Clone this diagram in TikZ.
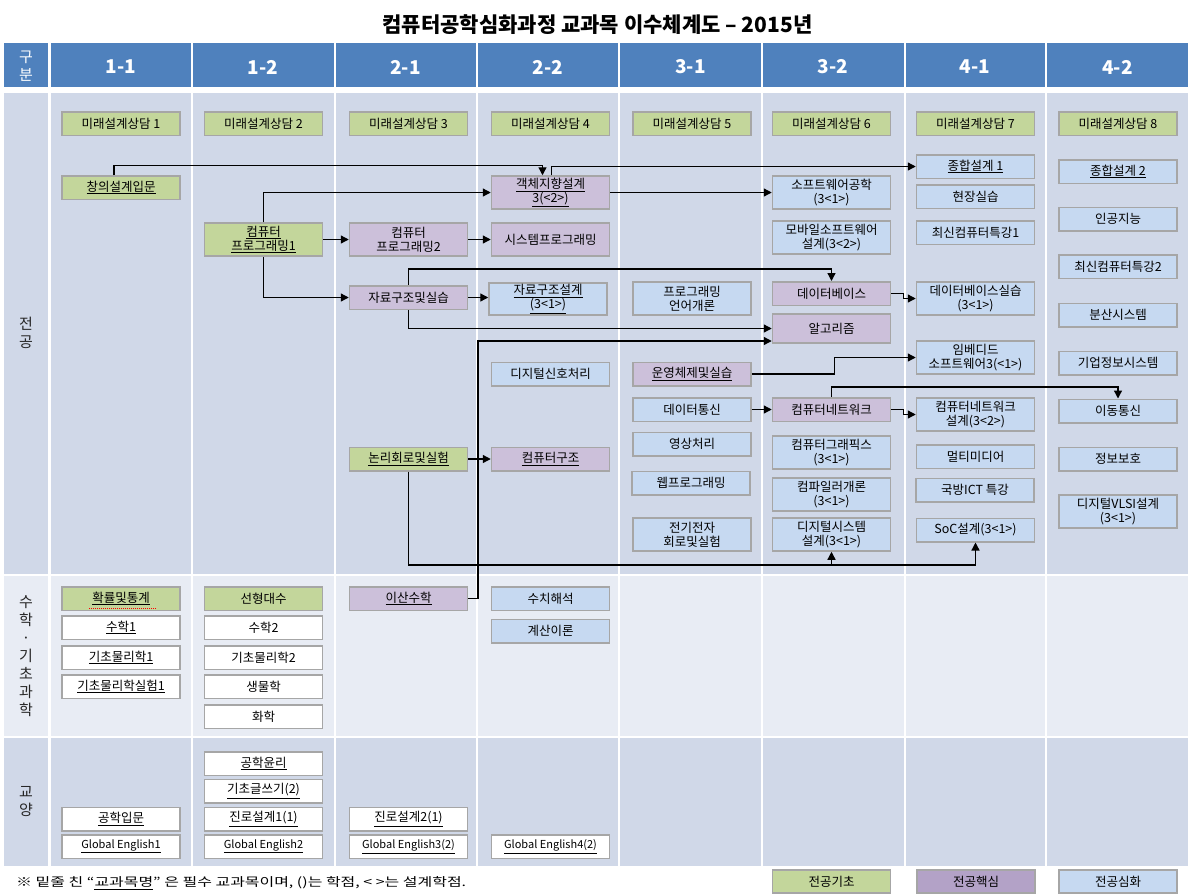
\documentclass[tikz,border=0pt]{standalone}
\usepackage{fontspec}
\usepackage{graphicx}
\setmainfont{Noto Sans CJK KR}
\usetikzlibrary{arrows.meta}
\definecolor{hdr}{HTML}{4F81BD}
\definecolor{bgA}{HTML}{D0D8E8}
\definecolor{bgB}{HTML}{E8ECF4}
\definecolor{cG}{HTML}{C3D69B}
\definecolor{cP}{HTML}{CCC0DA}
\definecolor{cB}{HTML}{C6D9F1}
\definecolor{cL}{HTML}{B3A2C7}
\definecolor{bd}{HTML}{A6A6A6}
\begin{document}
\begin{tikzpicture}[x=1pt,y=-1pt,
  box/.style={draw=bd,line width=1.5pt,minimum width=118pt,minimum height=23.5pt,inner sep=0pt,align=center,font=\fontsize{12.5}{14}\selectfont},
  tall/.style={minimum height=33pt},
  gb/.style={box,fill=cG}, pb/.style={box,fill=cP}, bb/.style={box,fill=cB}, wb/.style={box,fill=white},
  lb/.style={box,fill=cL},
  ge/.style={font=\fontsize{11}{13}\selectfont},
  arr/.style={line width=1.3pt,-{Triangle[length=8pt,width=8pt]}},
  hd/.style={text=white,font=\fontsize{19}{19}\bfseries\selectfont},
  rowlab/.style={align=center,font=\fontsize{15}{18}\selectfont,text=black!85}
]
\useasboundingbox (0,0) rectangle (1195,895);
\fill[white] (0,0) rectangle (1195,895);
% grid
\foreach \l/\r in {4/48, 50.5/191, 193/333.5, 335.5/475.5, 477.5/618, 620/761, 763/903.5, 905.5/1045, 1047/1188}{
  \fill[hdr] (\l,43) rectangle (\r,87);
  \fill[bgA] (\l,93) rectangle (\r,574);
  \fill[bgB] (\l,576) rectangle (\r,736);
  \fill[bgA] (\l,738) rectangle (\r,866);
}
% title
\node[font=\fontsize{21}{22}\bfseries\selectfont] (title) at (597.5,25) {컴퓨터공학심화과정 교과목 이수체계도 – 2015년};
% header
\node[rowlab,text=white] (hg) at (26,66) {구\\분};
\node[hd] (h1) at (120.7,67) {1-1};
\node[hd] (h2) at (263.2,67) {1-2};
\node[hd] (h3) at (405.5,67) {2-1};
\node[hd] (h4) at (547.7,67) {2-2};
\node[hd] (h5) at (690.5,67) {3-1};
\node[hd] (h6) at (833.2,67) {3-2};
\node[hd] (h7) at (975.2,67) {4-1};
\node[hd] (h8) at (1117.5,67) {4-2};
% row labels
\node[rowlab] (r1) at (26,332.5) {전\\공};
\node[rowlab] (r2) at (26,656) {수\\학\\·\\기\\초\\과\\학};
\node[rowlab] (r3) at (26,802) {교\\양};
% future design
\node[gb] (f1) at (121,123.5) {미래설계상담 1};
\node[gb] (f2) at (263.5,123.5) {미래설계상담 2};
\node[gb] (f3) at (408.5,123.5) {미래설계상담 3};
\node[gb] (f4) at (550.5,123.5) {미래설계상담 4};
\node[gb] (f5) at (692,123.5) {미래설계상담 5};
\node[gb] (f6) at (831.5,123.5) {미래설계상담 6};
\node[gb] (f7) at (975.5,123.5) {미래설계상담 7};
\node[gb] (f8) at (1118,123.5) {미래설계상담 8};
% major
\node[gb] (cyi) at (121,187.5) {\underline{창의설계입문}};
\node[pb,tall] (ood) at (550.5,192.5) {\underline{객체지향설계}\\\underline{3(<2>)}};
\node[gb,tall] (cp1) at (263.5,239.5) {\underline{컴퓨터}\\\underline{프로그래밍1}};
\node[pb,tall] (cp2) at (408.5,239.5) {컴퓨터\\프로그래밍2};
\node[pb,tall] (sysp) at (550.5,239.5) {시스템프로그래밍};
\node[pb] (ds) at (408.5,297.5) {자료구조및실습};
\node[bb,minimum height=32pt] (dsd) at (548,299) {\underline{자료구조설계}\\\underline{(3<1>)}};
\node[bb,tall] (swe) at (831.5,192.5) {소프트웨어공학\\(3<1>)};
\node[bb,tall] (mob) at (831.5,237.5) {모바일소프트웨어\\설계(3<2>)};
\node[bb] (cd1) at (975.5,166.5) {\underline{종합설계 1}};
\node[bb] (field) at (975.5,196.5) {현장실습};
\node[bb] (rec1) at (975.5,232.5) {최신컴퓨터특강1};
\node[bb] (cd2) at (1118,171.5) {\underline{종합설계 2}};
\node[bb] (ai) at (1118,219) {인공지능};
\node[bb] (rec2) at (1118,266.5) {최신컴퓨터특강2};
\node[bb,tall] (pl) at (692,298.5) {프로그래밍\\언어개론};
\node[pb] (db) at (831.5,293.5) {데이터베이스};
\node[bb,tall] (dbl) at (975.5,298.5) {데이터베이스실습\\(3<1>)};
\node[bb] (dist) at (1118,315) {분산시스템};
\node[pb,minimum height=29pt] (alg) at (831.5,328.5) {알고리즘};
\node[bb,tall] (emb) at (975.5,357.5) {임베디드\\소프트웨어3(<1>)};
\node[bb] (eis) at (1118,363) {기업정보시스템};
\node[bb] (dsp) at (550.5,374) {디지털신호처리};
\node[pb] (os) at (692,374) {\underline{운영체제및실습}};
\node[bb] (dc) at (692,409.5) {데이터통신};
\node[pb] (net) at (831.5,409.5) {컴퓨터네트워크};
\node[bb,tall] (netd) at (975.5,414.5) {컴퓨터네트워크\\설계(3<2>)};
\node[bb] (mobc) at (1118,411) {이동통신};
\node[bb] (img) at (692,444) {영상처리};
\node[bb,tall] (cg) at (831.5,452.5) {컴퓨터그래픽스\\(3<1>)};
\node[bb] (mm) at (975.5,456.5) {멀티미디어};
\node[bb] (sec) at (1118,459) {정보보호};
\node[gb] (logic) at (408.5,459) {\underline{논리회로및실험}};
\node[pb] (ca) at (550.5,459) {\underline{컴퓨터구조}};
\node[bb] (web) at (691,483) {웹프로그래밍};
\node[bb,tall] (comp) at (831.5,494.5) {컴파일러개론\\(3<1>)};
\node[bb] (ict) at (975,490) {국방ICT 특강};
\node[bb,tall] (vlsi) at (1118,511.5) {디지털VLSI설계\\(3<1>)};
\node[bb,tall] (ee) at (692,534.5) {전기전자\\회로및실험};
\node[bb,tall] (dsys) at (831.5,534.5) {디지털시스템\\설계(3<1>)};
\node[bb] (soc) at (975.5,530) {SoC설계(3<1>)};
% math & science
\node[gb] (prob) at (121,598.5) {\underline{확률및통계}};
\draw[red,line width=0.8pt,dash pattern=on 1pt off 1pt] (89,608.5) -- (156,608.5);
\node[wb] (math1) at (121,627.5) {\underline{수학1}};
\node[wb] (phy1) at (121,657.5) {\underline{기초물리학1}};
\node[wb] (phyl) at (121,686.5) {\underline{기초물리학실험1}};
\node[gb] (la) at (263.5,598.5) {선형대수};
\node[wb] (math2) at (263.5,627.5) {수학2};
\node[wb] (phy2) at (263.5,657.5) {기초물리학2};
\node[wb] (bio) at (263.5,686.5) {생물학};
\node[wb] (chem) at (263.5,716.5) {화학};
\node[pb] (dm) at (408.5,598.5) {\underline{이산수학}};
\node[bb] (na) at (550.5,598.5) {수치해석};
\node[bb] (toc) at (550.5,631) {계산이론};
% liberal arts
\node[wb] (eth) at (263.5,763.5) {\underline{공학윤리}};
\node[wb] (wri) at (263.5,791) {\underline{기초글쓰기(2)}};
\node[wb] (car1) at (263.5,819) {\underline{진로설계1(1)}};
\node[wb,ge] (ge2) at (263.5,846.5) {\underline{Global English2}};
\node[wb] (intro) at (121,819) {\underline{공학입문}};
\node[wb,ge] (ge1) at (121,846.5) {\underline{Global English1}};
\node[wb] (car2) at (408.5,819) {\underline{진로설계2(1)}};
\node[wb,ge] (ge3) at (408.5,846.5) {\underline{Global English3(2)}};
\node[wb,ge] (ge4) at (550.5,846.5) {\underline{Global English4(2)}};
% footnote & legend
\node[anchor=west,inner sep=0pt,font=\fontsize{12}{14}\selectfont] (fn) at (16,883) {\scalebox{1.33}[1]{※ 밑줄 친 “\underline{교과목명}” 은 필수 교과목이며, ()는 학점, < >는 설계학점.}};
\node[gb,minimum height=23pt] (lg1) at (831.5,881.5) {전공기초};
\node[lb,minimum height=23pt] (lg2) at (976,881.5) {전공핵심};
\node[bb,minimum height=23pt] (lg3) at (1118,881.5) {전공심화};
% connectors
\draw[arr] ([xshift=-7pt]cyi.north) -- ++(0,-9.3) -| ([xshift=-8pt]ood.north);
\draw[arr] ([xshift=1pt]ood.north) |- (cd1.west);
\draw[arr] (cp1.north) |- (ood.west);
\draw[arr] (cp1.east) -- (cp2.west);
\draw[arr] (cp2.east) -- (sysp.west);
\draw[arr] (cp1.south) |- (ds.west);
\draw[arr] (ds.east) -- (ds.east -| dsd.west);
\draw[arr] (ds.north) -- ++(0,-16) -| (db.north);
\draw[arr] (ds.south) |- (alg.west);
\coordinate (dmup) at (478,341);
\draw[arr] (dm.east) -| (dmup) -- (alg.west |- dmup);
\draw[arr] (ood.east) -- (swe.west);
\draw[arr] (db.east) -- ++(12,0) |- (dbl.west);
\draw[arr] (os.east) -- ++(83,0) |- (emb.west);
\draw[arr] (dc.east) -- (net.west);
\draw[arr] (net.east) -- ++(12,0) |- (netd.west);
\draw[arr] (net.north) -- ++(0,-10) -| (mobc.north);
\draw[arr] (logic.east) -- (ca.west);
\coordinate (lowbus) at (408.5,565);
\draw[arr] (logic.south) -- (lowbus) -| (dsys.south);
\draw[arr] (lowbus) -| (soc.south);
\end{tikzpicture}
\end{document}
